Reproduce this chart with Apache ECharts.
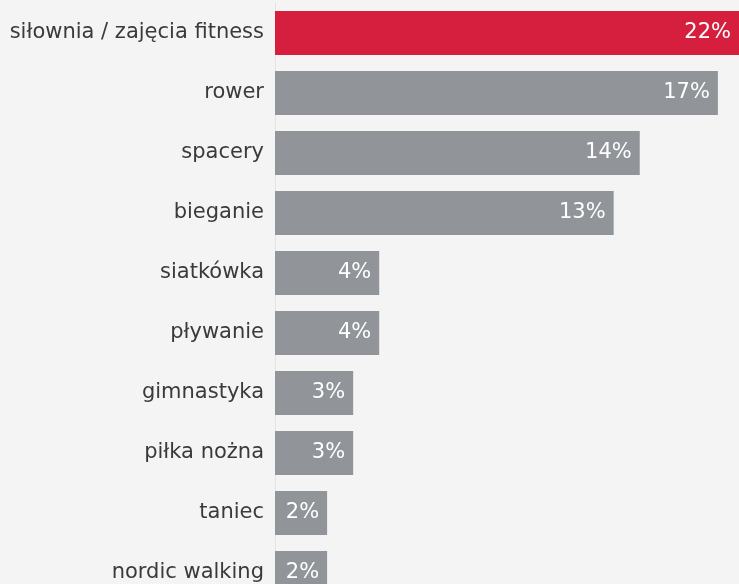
<!DOCTYPE html>
<html>
<head>
<meta charset="utf-8">
<script src="https://cdn.jsdelivr.net/npm/echarts@6/dist/echarts.min.js"></script>
<style>
html,body{margin:0;padding:0;background:#f4f4f4;}
#c{width:739px;height:584px;}
</style>
</head>
<body>
<div id="c"></div>
<script>
const categories = ["siłownia / zajęcia fitness","rower","spacery","bieganie","siatkówka","pływanie","gimnastyka","piłka nożna","taniec","nordic walking"];
const values = [22,17,14,13,4,4,3,3,2,2];
const highlightIndex = 0;

const chart = echarts.init(document.getElementById('c'));
chart.setOption({
  backgroundColor: '#f4f4f4',
  animation: false,
  grid: { left: 275, right: 0, top: 3, bottom: -19, containLabel: false, outerBoundsMode: 'none' },
  xAxis: { type: 'value', min: 0, max: 17.81, show: false },
  yAxis: {
    type: 'category', data: categories, inverse: true,
    axisLine: { show: true, lineStyle: { color: '#e4e4e4', width: 1 } },
    axisTick: { show: false },
    axisLabel: { color: '#3a3a3a', fontSize: 21, fontFamily: 'DejaVu Sans', margin: 11, padding: [3, 0, 0, 0] }
  },
  series: [{
    type: 'bar',
    clip: true,
    barWidth: 44,
    data: values.map((v, i) => ({ value: v, itemStyle: { color: i === highlightIndex ? '#d61f3e' : '#919599' } })),
    label: {
      show: true, position: 'insideRight', distance: 8,
      color: '#ffffff', fontSize: 21, fontFamily: 'DejaVu Sans',
      formatter: p => p.value + '%'
    }
  }]
});
</script>
</body>
</html>
